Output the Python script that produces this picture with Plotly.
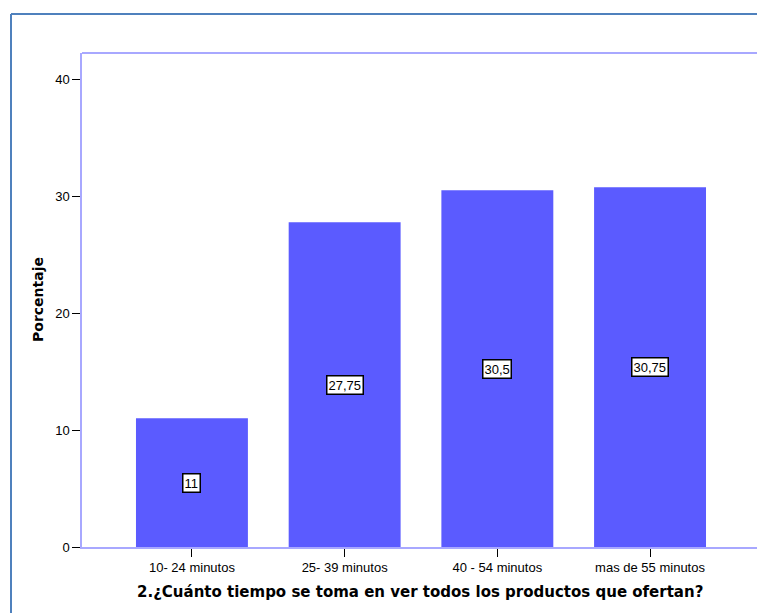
import plotly.graph_objects as go

# Survey results: time spent browsing all products on offer
categorias = ["10- 24 minutos", "25- 39 minutos", "40 - 54 minutos", "mas de 55 minutos"]
porcentajes = [11, 27.75, 30.5, 30.75]
etiquetas = ["11", "27,75", "30,5", "30,75"]
y_ticks = [0, 10, 20, 30, 40]

BAR_COLOR = "#5b5bff"
FRAME_COLOR = "#a8a8ff"
BORDER_COLOR = "#4f81bd"
SANS = "Liberation Sans, Arial"
BOLD = "DejaVu Sans, Verdana"

W, H = 757, 613
ML, MR, MT, MB = 82, 0, 53, 66
PW, PH = W - ML - MR, H - MT - MB

xs = list(range(len(categorias)))

fig = go.Figure(
    go.Bar(
        x=xs,
        y=porcentajes,
        width=0.733,
        marker=dict(color=BAR_COLOR, line=dict(width=0)),
        hoverinfo="skip",
    )
)

# Value boxes centred in each bar
for xi, v, t in zip(xs, porcentajes, etiquetas):
    fig.add_annotation(
        x=xi, y=v / 2, xref="x", yref="y", text=t, showarrow=False,
        font=dict(family=SANS, size=13, color="black"),
        bgcolor="white", bordercolor="black", borderwidth=1.5, borderpad=1,
    )

# Axis titles
fig.add_annotation(
    x=0.5, y=(547 - 592) / PH, xref="paper", yref="paper",
    xanchor="center", yanchor="middle",
    text="<b>2.¿Cuánto tiempo se toma en ver todos los productos que ofertan?</b>",
    showarrow=False, font=dict(family=BOLD, size=15, color="black"),
)
fig.add_annotation(
    x=(38 - ML) / PW, y=0.5, xref="paper", yref="paper", textangle=-90,
    xanchor="center", yanchor="middle",
    text="<b>Porcentaje</b>", showarrow=False,
    font=dict(family=BOLD, size=14, color="black"),
)

# Outer frame (top and left edges)
bx = (11 - ML) / PW
by = (547 - 14) / PH
fig.add_shape(type="line", xref="paper", yref="paper", x0=bx, x1=1.05, y0=by, y1=by,
              line=dict(color=BORDER_COLOR, width=2))
fig.add_shape(type="line", xref="paper", yref="paper", x0=bx, x1=bx, y0=by, y1=-0.2,
              line=dict(color=BORDER_COLOR, width=2))
# Top edge of the plot frame
fig.add_shape(type="line", xref="paper", yref="paper", x0=0, x1=1.05, y0=1, y1=1,
              line=dict(color=FRAME_COLOR, width=2))

fig.update_layout(
    width=W, height=H,
    margin=dict(l=ML, r=MR, t=MT, b=MB),
    paper_bgcolor="white", plot_bgcolor="white",
    showlegend=False,
    font=dict(family=SANS, size=13, color="black"),
    xaxis=dict(
        range=[-0.72, -0.72 + PW / 152.7],
        tickmode="array", tickvals=xs, ticktext=categorias,
        ticks="outside", ticklen=8, tickcolor="black", tickwidth=1,
        showline=True, linecolor=FRAME_COLOR, linewidth=1.5,
        showgrid=False, zeroline=False,
        tickfont=dict(size=13),
    ),
    yaxis=dict(
        range=[0, (547 - 53) / 11.7],
        tickmode="array", tickvals=y_ticks,
        ticks="outside", ticklen=8, tickcolor="black", tickwidth=1,
        showline=True, linecolor=FRAME_COLOR, linewidth=1.5,
        showgrid=False, zeroline=False,
        tickfont=dict(size=13),
    ),
)

fig.write_html("out.html")
